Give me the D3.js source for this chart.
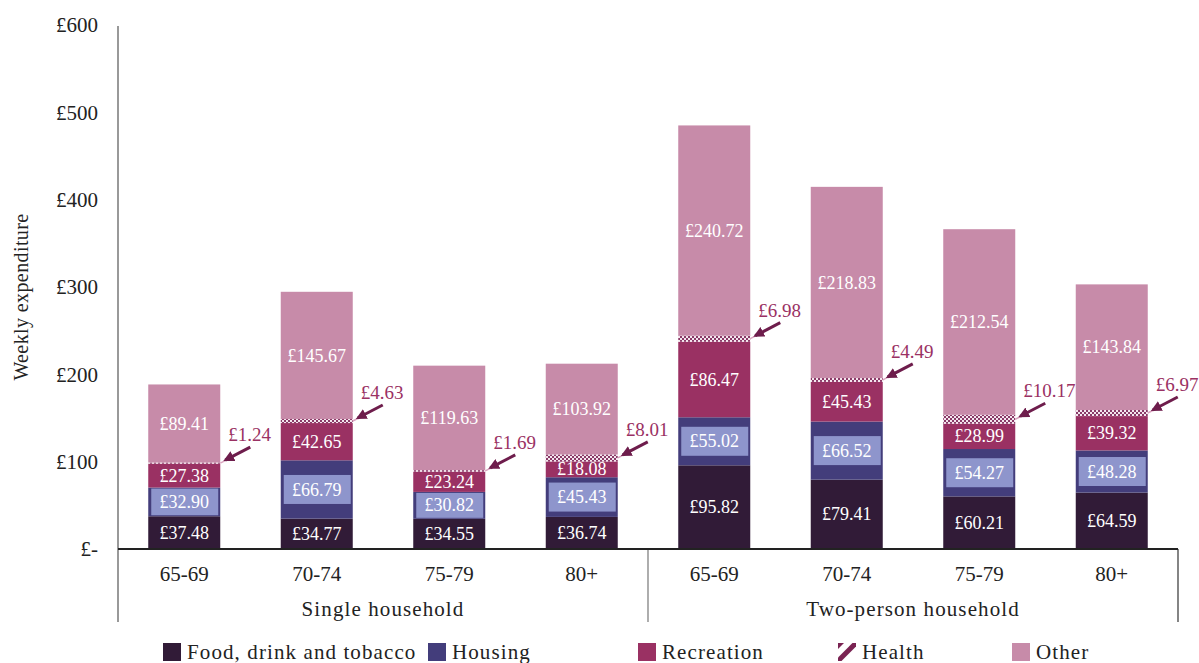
<!DOCTYPE html>
<html>
<head>
<meta charset="utf-8">
<script src="https://cdn.jsdelivr.net/npm/d3@7"></script>
<style>
  html, body { margin: 0; padding: 0; background: #fff; }
  svg { display: block; }
  text { font-family: "Liberation Serif", "Times New Roman", serif; }
</style>
</head>
<body>
<svg id="chart" width="1199" height="663"></svg>
<script>
// ---------- DATA ----------
const groups = ["Single household", "Two-person household"];
const ages = ["65-69", "70-74", "75-79", "80+"];
const categories = ["Food, drink and tobacco", "Housing", "Recreation", "Health", "Other"];
// bar order: Single 65-69, 70-74, 75-79, 80+, Two-person 65-69, 70-74, 75-79, 80+
const food       = [37.48, 34.77, 34.55, 36.74, 95.82, 79.41, 60.21, 64.59];
const housing    = [32.90, 66.79, 30.82, 45.43, 55.02, 66.52, 54.27, 48.28];
const recreation = [27.38, 42.65, 23.24, 18.08, 86.47, 45.43, 28.99, 39.32];
const health     = [1.24, 4.63, 1.69, 8.01, 6.98, 4.49, 10.17, 6.97];
const other      = [89.41, 145.67, 119.63, 103.92, 240.72, 218.83, 212.54, 143.84];
const yTicks = [0, 100, 200, 300, 400, 500, 600];
const yTickLabels = ["£-", "£100", "£200", "£300", "£400", "£500", "£600"];
const yTitle = "Weekly expenditure";

// ---------- STYLE ----------
const colors = {
  "Food, drink and tobacco": "#311b37",
  "Housing": "#433d7b",
  "Recreation": "#9a3163",
  "Health": "url(#checker)",
  "Other": "#c78ba9"
};
const housingBox = "#8e95cc";
const annColor = "#9a3163";
const arrowColor = "#6e1d4c";

const svg = d3.select("#chart");
const defs = svg.append("defs");
const pat = defs.append("pattern").attr("id", "checker").attr("width", 4).attr("height", 4)
  .attr("patternUnits", "userSpaceOnUse");
pat.append("rect").attr("width", 4).attr("height", 4).attr("fill", "#f4e6ee");
pat.append("rect").attr("x", 0).attr("y", 0).attr("width", 2).attr("height", 2).attr("fill", "#8a3a68");
pat.append("rect").attr("x", 2).attr("y", 2).attr("width", 2).attr("height", 2).attr("fill", "#8a3a68");
defs.append("marker").attr("id", "ah").attr("viewBox", "0 0 10 10").attr("refX", 8).attr("refY", 5)
  .attr("markerWidth", 3.6).attr("markerHeight", 3.6).attr("orient", "auto-start-reverse")
  .attr("markerUnits", "strokeWidth")
  .append("path").attr("d", "M0,0 L10,5 L0,10 z").attr("fill", arrowColor);

// ---------- BUILD ROWS ----------
const rows = [];
groups.forEach((g, gi) => ages.forEach((a, ai) => {
  const i = gi * ages.length + ai;
  rows.push({
    key: g + "|" + a, group: g, age: a,
    "Food, drink and tobacco": food[i], "Housing": housing[i], "Recreation": recreation[i],
    "Health": health[i], "Other": other[i]
  });
}));
const series = d3.stack().keys(categories)(rows);

// ---------- SCALES ----------
const x = d3.scaleBand().domain(rows.map(d => d.key)).range([118, 1178])
  .paddingInner(0.4566).paddingOuter(0.2283);
const y = d3.scaleLinear().domain([0, 600]).range([549, 25]);

// ---------- AXES ----------
const yAxis = svg.append("g").attr("transform", "translate(118,0)")
  .call(d3.axisLeft(y).tickValues(yTicks).tickFormat((d, i) => yTickLabels[i]).tickSize(0).tickPadding(20));
yAxis.select(".domain").remove();
yAxis.selectAll("text").attr("font-size", 21).attr("fill", "#222")
  .attr("font-family", "Liberation Serif, serif");

svg.append("text").attr("transform", `translate(28,${(y(0) + y(600)) / 2 + 10}) rotate(-90)`)
  .attr("text-anchor", "middle").attr("font-size", 20).attr("letter-spacing", 0.4)
  .attr("fill", "#222").text(yTitle);

// frame lines
svg.append("line").attr("x1", 118).attr("x2", 118).attr("y1", 26).attr("y2", 622)
  .attr("stroke", "#555").attr("stroke-width", 1.2);
svg.append("line").attr("x1", 648).attr("x2", 648).attr("y1", y(0)).attr("y2", 622)
  .attr("stroke", "#777").attr("stroke-width", 1.2);
svg.append("line").attr("x1", 1178).attr("x2", 1178).attr("y1", y(0)).attr("y2", 622)
  .attr("stroke", "#333").attr("stroke-width", 1.2);

// ---------- BARS ----------
const layer = svg.append("g").selectAll("g").data(series).join("g")
  .attr("fill", s => colors[s.key]);
layer.selectAll("rect").data(s => s.map(d => Object.assign(d, { cat: s.key }))).join("rect")
  .attr("x", d => x(d.data.key))
  .attr("y", d => y(d[1]))
  .attr("width", x.bandwidth())
  .attr("height", d => y(d[0]) - y(d[1]));

// housing label boxes
const hs = series.find(s => s.key === "Housing");
svg.append("g").selectAll("rect").data(hs).join("rect")
  .attr("x", d => x(d.data.key) + 3)
  .attr("width", x.bandwidth() - 5)
  .attr("y", d => { const h = Math.min(y(d[0]) - y(d[1]) - 2, 29); return (y(d[0]) + y(d[1])) / 2 - h / 2; })
  .attr("height", d => Math.min(y(d[0]) - y(d[1]) - 2, 29))
  .attr("fill", housingBox);

// segment labels
const labelCats = ["Food, drink and tobacco", "Housing", "Recreation", "Other"];
series.filter(s => labelCats.includes(s.key)).forEach(s => {
  svg.append("g").selectAll("text").data(s).join("text")
    .attr("x", d => x(d.data.key) + x.bandwidth() / 2)
    .attr("y", d => (y(d[0]) + y(d[1])) / 2)
    .attr("dy", "0.34em")
    .attr("text-anchor", "middle").attr("font-size", 18).attr("fill", "#fff")
    .text(d => "£" + d3.format(".2f")(d[1] - d[0]));
});

// zero line
svg.append("line").attr("x1", 118).attr("x2", 1178).attr("y1", y(0)).attr("y2", y(0))
  .attr("stroke", "#222").attr("stroke-width", 2.2);

// health annotations
const hl = series.find(s => s.key === "Health");
const ann = svg.append("g").selectAll("g").data(hl).join("g")
  .attr("transform", d => `translate(${x(d.data.key) + x.bandwidth()},${(y(d[0]) + y(d[1])) / 2})`);
ann.append("line").attr("x1", 0).attr("y1", 0).attr("x2", 6).attr("y2", -3)
  .attr("stroke", "#d9a3bf").attr("stroke-width", 1.5);
ann.append("line").attr("x1", 30).attr("y1", -16).attr("x2", 5).attr("y2", -3)
  .attr("stroke", arrowColor).attr("stroke-width", 3).attr("marker-end", "url(#ah)");
ann.append("text").attr("x", 8).attr("y", -22).attr("font-size", 19).attr("fill", annColor)
  .text(d => "£" + d3.format(".2f")(d[1] - d[0]));

// ---------- X AXIS ----------
const xAxis = svg.append("g").attr("transform", `translate(0,${y(0)})`)
  .call(d3.axisBottom(x).tickFormat(k => k.split("|")[1]).tickSize(0).tickPadding(17));
xAxis.select(".domain").remove();
xAxis.selectAll("text").attr("font-size", 21).attr("fill", "#222")
  .attr("font-family", "Liberation Serif, serif");

groups.forEach(g => {
  const ks = rows.filter(r => r.group === g).map(r => r.key);
  const x0 = x(ks[0]) - x.step() * x.paddingOuter();
  const x1 = x(ks[ks.length - 1]) + x.bandwidth() + x.step() * x.paddingOuter();
  svg.append("text").attr("x", (x0 + x1) / 2).attr("y", 616).attr("text-anchor", "middle")
    .attr("font-size", 21).attr("letter-spacing", 1.1).attr("fill", "#222").text(g);
});

// ---------- LEGEND ----------
const legX = [163, 428, 638, 838, 1012];
const leg = svg.append("g").selectAll("g").data(categories).join("g")
  .attr("transform", (d, i) => `translate(${legX[i]},643)`);
leg.filter(d => d !== "Health").append("rect").attr("width", 18).attr("height", 18)
  .attr("fill", d => colors[d]);
const hIcon = leg.filter(d => d === "Health");
hIcon.append("rect").attr("width", 18).attr("height", 18).attr("fill", "#fff");
hIcon.append("clipPath").attr("id", "hclip").append("rect").attr("width", 18).attr("height", 18);
const hg = hIcon.append("g").attr("clip-path", "url(#hclip)");
hg.append("line").attr("x1", -2).attr("y1", 20).attr("x2", 20).attr("y2", -2)
  .attr("stroke", "#7a2352").attr("stroke-width", 5);
hg.append("path").attr("d", "M0,0 L6,0 L0,6 z").attr("fill", "#7a2352");
leg.append("text").attr("x", 24).attr("y", 16).attr("font-size", 21).attr("letter-spacing", 1.1)
  .attr("fill", "#222").text(d => d);
</script>
</body>
</html>
